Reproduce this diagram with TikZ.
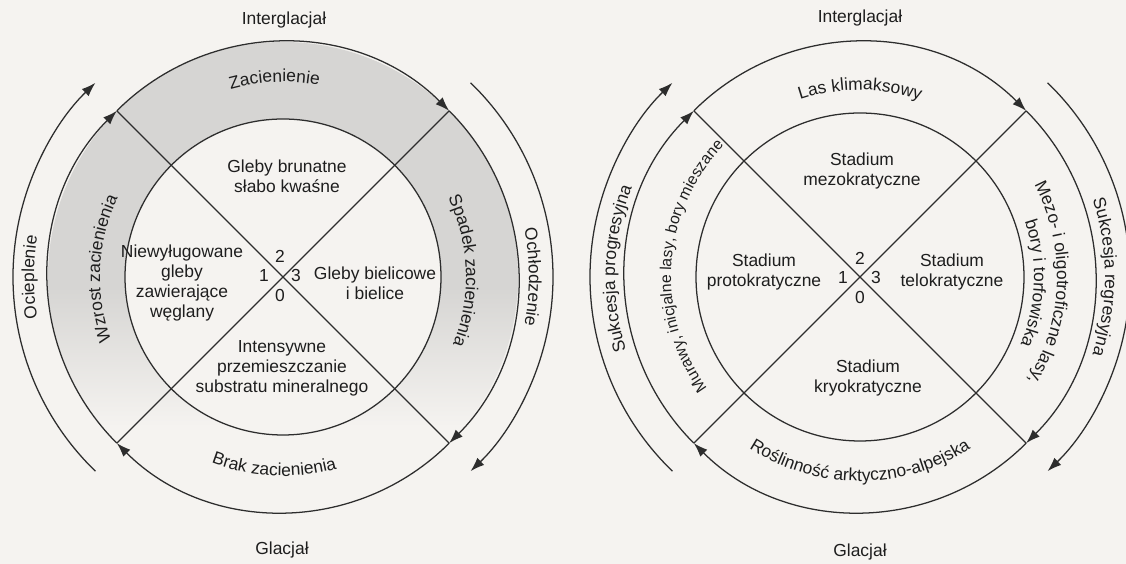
\documentclass[tikz,border=0pt]{standalone}
\usepackage{fontspec}
\setmainfont{Liberation Sans}
\setsansfont{Liberation Sans}
\usetikzlibrary{arrows.meta,calc,decorations.text}

\definecolor{tlo}{RGB}{245,243,240}
\definecolor{cien}{RGB}{214,213,211}
\definecolor{linia}{RGB}{45,45,45}
\definecolor{tekst}{RGB}{30,30,30}
\newcommand{\etyk}{\fontsize{12.4}{14.3}\selectfont}
\newcommand{\etykm}{\fontsize{11.2}{13}\selectfont}

\tikzset{
  kolo/.style={line width=0.9pt, draw=linia},
  strz/.style={kolo, -{Latex[length=10pt,width=7pt]}},
  napis/.style={font=\etyk, text=tekst, align=center, inner sep=0pt},
  luk/.style={decorate, decoration={text along path, text align=center,
      text color=tekst, text={|\etyk|#1}}},
  lukm/.style={decorate, decoration={text along path, text align=center,
      text color=tekst, text={|\etykm|#1}}}
}

\begin{document}
\begin{tikzpicture}[x=0.025cm, y=0.025cm, font=\sffamily, >=latex]

    % ==========================================
    % 0. Tlo i ramka
    % ==========================================
    \fill[tlo] (0,0) rectangle (1126,564);
    \useasboundingbox (0,0) rectangle (1126,564);

    \coordinate (L) at (283,287);
    \coordinate (P) at (860,287);

    % ==========================================
    % 1. Pierscien zacienienia (lewy schemat)
    % ==========================================
    \begin{scope}[even odd rule]
        \clip (L) circle (235) (L) circle (158);
        \fill[cien] ($(L)+(-240,-20)$) rectangle ($(L)+(240,240)$);
        \shade[top color=cien, bottom color=tlo] ($(L)+(-240,-150)$) rectangle ($(L)+(240,-10)$);
    \end{scope}

    % ==========================================
    % 2. Kola, przekatne i strzalki cyklu
    % ==========================================
    \foreach \c/\r in {L/158,P/164} {
        \coordinate (\c-nw) at ($(\c)+(135:235)$);
        \coordinate (\c-ne) at ($(\c)+(45:235)$);
        \coordinate (\c-se) at ($(\c)+(-45:235)$);
        \coordinate (\c-sw) at ($(\c)+(-135:235)$);
        \draw[kolo] (\c) circle (\r);
        \draw[kolo] (\c-nw) -- (\c-se);
        \draw[kolo] (\c-ne) -- (\c-sw);
        \foreach \a in {225,135,45,-45}
            \draw[strz] ($(\c)+(\a:235)$) arc[start angle=\a, end angle=\a-90, radius=235];
        \draw[strz] ($(\c)+(226:270)$) arc[start angle=226, end angle=134, radius=270];
        \draw[strz] ($(\c)+(46:270)$) arc[start angle=46, end angle=-46, radius=270];
    }

    % ==========================================
    % 3. Lewy schemat - gleby
    % ==========================================
    \node[napis] (l-inter) at (284,544) {Interglacjał};
    \node[napis] (l-glac)  at (282,14)  {Glacjał};
    \node[napis] (l-gora)  at (287,388) {Gleby brunatne\\słabo kwaśne};
    \node[napis] (l-lewo)  at (182,281) {Niewyługowane\\gleby\\zawierające\\węglany};
    \node[napis] (l-prawo) at (375,281) {Gleby bielicowe\\i bielice};
    \node[napis] (l-dol)   at (282,196) {Intensywne\\przemieszczanie\\substratu mineralnego};
    \node[napis] (l-2) at (280,308) {2};
    \node[napis] (l-1) at (264,288) {1};
    \node[napis] (l-3) at (296,288) {3};
    \node[napis] (l-0) at (280,268) {0};

    \path[luk={Zacienienie}] ($(L)+(137.5:195)$) arc[start angle=137.5, end angle=47.5, radius=195];
    \path[luk={Brak zacienienia}] ($(L)+(222.3:199)$) arc[start angle=222.3, end angle=312.3, radius=199];
    \path[luk={Wzrost zacienienia}] ($(L)+(222.3:183)$) arc[start angle=222.3, end angle=132.3, radius=183];
    \path[luk={Spadek zacienienia}] ($(L)+(47:183)$) arc[start angle=47, end angle=-43, radius=183];
    \path[luk={Ocieplenie}] ($(L)+(225:249)$) arc[start angle=225, end angle=135, radius=249];
    \path[luk={Ochłodzenie}] ($(L)+(45:246)$) arc[start angle=45, end angle=-45, radius=246];

    % ==========================================
    % 4. Prawy schemat - roslinnosc
    % ==========================================
    \node[napis] (p-inter) at (860,546) {Interglacjał};
    \node[napis] (p-glac)  at (860,12)  {Glacjał};
    \node[napis] (p-gora)  at (862,393) {Stadium\\mezokratyczne};
    \node[napis] (p-lewo)  at (764,292) {Stadium\\protokratyczne};
    \node[napis] (p-prawo) at (952,292) {Stadium\\telokratyczne};
    \node[napis] (p-dol)   at (868,186) {Stadium\\kryokratyczne};
    \node[napis] (p-2) at (860,306) {2};
    \node[napis] (p-1) at (843,286) {1};
    \node[napis] (p-3) at (876,286) {3};
    \node[napis] (p-0) at (860,266) {0};

    \path[luk={Las klimaksowy}] ($(P)+(135:187)$) arc[start angle=135, end angle=45, radius=187];
    \path[luk={Roślinność arktyczno-alpejska}] ($(P)+(200:204)$) arc[start angle=200, end angle=340, radius=204];
    \path[lukm={Murawy, inicjalne lasy, bory mieszane}] ($(P)+(236:189)$) arc[start angle=236, end angle=116, radius=189];
    \path[luk={Sukcesja progresyjna}] ($(P)+(223:245)$) arc[start angle=223, end angle=133, radius=245];
    \path[luk={Mezo- i oligotroficzne lasy,}] ($(P)+(58:197)$) arc[start angle=58, end angle=-62, radius=197];
    \path[luk={bory i torfowiska}] ($(P)+(43:174)$) arc[start angle=43, end angle=-47, radius=174];
    \path[luk={Sukcesja regresyjna}] ($(P)+(45:245)$) arc[start angle=45, end angle=-45, radius=245];

\end{tikzpicture}
\end{document}
